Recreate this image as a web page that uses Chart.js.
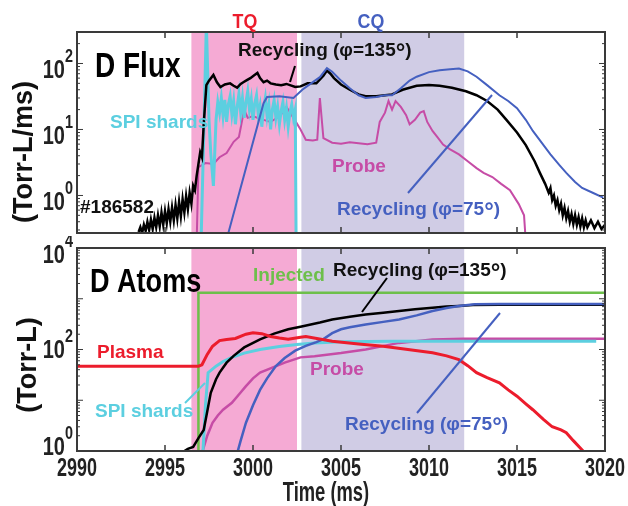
<!DOCTYPE html>
<html lang="en">
<head>
    <meta charset="UTF-8">
    <title>D Flux / D Atoms</title>
    <script src="https://cdn.jsdelivr.net/npm/chart.js"></script>
    <style>
        body { margin: 0; background: #fff; }
        canvas { position: absolute; left: 0; }
        #fluxChart { top: 0; }
        #atomChart { top: 236px; }
    </style>
</head>
<body>
    <canvas id="fluxChart" width="628" height="236"></canvas>
    <canvas id="atomChart" width="628" height="270"></canvas>
    <script>
    // time axis (ms)
    const tMin = 2990, tMax = 3020;
    const timeTicks = [2990, 2995, 3000, 3005, 3010, 3015, 3020];

    // thermal quench / current quench windows (ms)
    const tqPhase = [2996.5, 3002.5];
    const cqPhase = [3002.75, 3012];

    // log axis limits and labelled decades
    const fluxRange = [0.27, 300];
    const fluxDecades = [0, 1, 2];
    const atomRange = [1, 10000];
    const atomDecades = [0, 2, 4];

    // D flux (Torr-L/ms) as [time, value]
    const fluxRecycling135 = [
        [2993.5, 0.28], [2993.6, 0.33], [2993.7, 0.27], [2993.8, 0.36], [2993.9, 0.29], [2994.0, 0.40],
        [2994.1, 0.30], [2994.2, 0.43], [2994.3, 0.31], [2994.4, 0.46], [2994.5, 0.33], [2994.6, 0.50],
        [2994.7, 0.34], [2994.8, 0.55], [2994.9, 0.36], [2995.0, 0.58], [2995.1, 0.38], [2995.2, 0.62],
        [2995.3, 0.40], [2995.4, 0.66], [2995.5, 0.42], [2995.6, 0.72], [2995.7, 0.45], [2995.8, 0.80],
        [2995.9, 0.48], [2996.0, 0.88], [2996.1, 0.55], [2996.2, 0.98], [2996.3, 0.62], [2996.4, 1.1],
        [2996.5, 0.75], [2996.6, 1.4], [2996.7, 1.2], [2996.8, 2.0], [2996.9, 3.0], [2997.0, 4.5],
        [2997.1, 3.8], [2997.2, 12], [2997.35, 47], [2997.5, 55], [2997.75, 67], [2997.95, 52],
        [2998.15, 44], [2998.4, 48], [2998.7, 50], [2998.9, 46], [2999.1, 43], [2999.3, 49],
        [2999.45, 52], [2999.65, 56], [2999.85, 60], [3000.05, 66], [3000.25, 72], [3000.4, 60],
        [3000.6, 52], [3000.8, 55], [3001.0, 50], [3001.3, 48], [3001.6, 47], [3001.9, 49],
        [3002.1, 47], [3002.4, 44], [3002.7, 45], [3003.1, 50], [3003.6, 50], [3004.0, 65],
        [3004.2, 78], [3004.4, 70], [3004.6, 60], [3005.0, 48], [3005.5, 40], [3006.0, 34],
        [3006.4, 32], [3007.0, 32], [3007.5, 33], [3007.9, 34], [3008.5, 40], [3009.3, 46],
        [3010.0, 47], [3010.6, 46], [3011.3, 43], [3012.1, 38], [3012.7, 33], [3013.3, 27],
        [3013.9, 20], [3014.4, 14], [3015.0, 9], [3015.5, 5.8], [3016.0, 3.3], [3016.3, 2.2],
        [3016.6, 1.5], [3016.8, 1.1], [3016.9, 1.3], [3017.0, 0.85], [3017.1, 1.0], [3017.2, 0.7],
        [3017.3, 0.85], [3017.4, 0.6], [3017.5, 0.75], [3017.6, 0.5], [3017.7, 0.65], [3017.8, 0.45],
        [3017.9, 0.58], [3018.0, 0.4], [3018.1, 0.52], [3018.2, 0.37], [3018.3, 0.5], [3018.4, 0.36],
        [3018.5, 0.47], [3018.6, 0.34], [3018.7, 0.45], [3018.8, 0.33], [3018.9, 0.42], [3019.0, 0.33],
        [3019.2, 0.42], [3019.4, 0.32], [3019.6, 0.4], [3019.8, 0.31], [3020.0, 0.36]
    ];
    const fluxRecycling75 = [
        [2998.6, 0.27], [3000.6, 25], [3000.8, 31], [3001.5, 32], [3002.3, 30], [3002.8, 40],
        [3003.3, 50], [3003.8, 62], [3004.2, 85], [3004.5, 75], [3005.0, 55], [3005.5, 42],
        [3006.0, 33], [3006.4, 30], [3007.0, 31], [3007.5, 33], [3007.9, 33], [3008.4, 42],
        [3008.9, 55], [3009.3, 63], [3010.0, 74], [3010.6, 79], [3011.2, 82], [3011.7, 84],
        [3012.2, 76], [3012.7, 63], [3013.3, 47], [3014.0, 33], [3014.5, 27], [3015.0, 21],
        [3015.5, 14], [3015.9, 9.5], [3016.4, 6.3], [3016.9, 4.2], [3017.4, 2.9], [3017.8, 2.2],
        [3018.3, 1.6], [3018.7, 1.3], [3019.3, 1.1], [3019.9, 0.93]
    ];
    const fluxProbe = [
        [2996.8, 0.2], [2996.9, 2.7], [2997.3, 3.1], [2997.75, 3.0], [2998.1, 3.8], [2998.5, 4.4],
        [2998.9, 6.5], [2999.2, 7.7], [2999.5, 20], [2999.7, 15], [3000.0, 16], [3000.25, 15],
        [3000.6, 14], [3001.0, 13], [3001.4, 15.3], [3001.7, 18], [3001.9, 22], [3002.3, 15],
        [3002.7, 10], [3003.0, 7], [3003.4, 6.8], [3003.65, 7], [3003.8, 30], [3004.0, 7.4],
        [3004.5, 6.3], [3005.0, 6.1], [3005.5, 6.4], [3006.0, 6.2], [3006.5, 6.0], [3007.0, 6.3],
        [3007.2, 13], [3007.5, 18], [3007.7, 27], [3007.9, 20], [3008.1, 27], [3008.4, 22],
        [3008.7, 16.5], [3008.9, 12], [3009.2, 14], [3009.5, 18], [3009.7, 19], [3009.9, 13],
        [3010.2, 9.5], [3010.5, 7.5], [3010.8, 5.9], [3011.2, 5.0], [3011.7, 4.2], [3012.2, 3.3],
        [3012.7, 2.6], [3013.1, 2.2], [3013.6, 1.9], [3014.1, 1.5], [3014.6, 1.2], [3015.1, 0.74],
        [3015.4, 0.5], [3015.5, 0.2]
    ];
    const fluxShards = [
        [2997.05, 0.2], [2997.2, 8], [2997.35, 400], [2997.5, 14], [2997.6, 4.4], [2997.75, 1.4],
        [2997.9, 14], [2998.0, 26], [2998.1, 18], [2998.2, 30], [2998.3, 16], [2998.4, 28],
        [2998.5, 13], [2998.6, 24], [2998.7, 32], [2998.8, 17], [2998.9, 27], [2999.0, 12],
        [2999.1, 22], [2999.2, 35], [2999.3, 18], [2999.4, 30], [2999.5, 15], [2999.6, 26],
        [2999.7, 38], [2999.8, 20], [2999.9, 29], [3000.0, 14], [3000.1, 25], [3000.2, 33],
        [3000.3, 17], [3000.4, 23], [3000.5, 11], [3000.6, 21], [3000.7, 30], [3000.8, 16],
        [3000.9, 24], [3001.0, 10], [3001.1, 20], [3001.2, 28], [3001.3, 15], [3001.4, 22],
        [3001.5, 12], [3001.6, 19], [3001.7, 26], [3001.8, 14], [3001.9, 21], [3002.0, 11],
        [3002.1, 18], [3002.2, 24], [3002.3, 15], [3002.4, 20], [3002.45, 0.2]
    ];

    // D atoms (Torr-L) as [time, value]
    const atomsPlasma = [
        [2990, 47], [2996.9, 47], [2997.1, 50], [2997.4, 80], [2997.7, 116], [2998.1, 150],
        [2998.5, 158], [2999.0, 165], [2999.6, 200], [3000.0, 214], [3000.5, 205], [3001.0, 180],
        [3001.5, 168], [3002.0, 160], [3002.7, 175], [3003.0, 180], [3004.5, 145], [3006.0, 128],
        [3007.4, 116], [3008.8, 100], [3010.2, 86], [3011.0, 75], [3011.7, 63], [3012.2, 48],
        [3012.7, 35], [3013.3, 28], [3014.0, 22], [3014.5, 16], [3015.0, 12], [3015.5, 8.5],
        [3015.9, 6.5], [3016.5, 4.2], [3017.0, 3.0], [3017.5, 2.6], [3017.8, 2.3], [3018.2, 1.6],
        [3018.7, 1.05], [3019.0, 0.8]
    ];
    const atomsInjected = [[2996.9, 0.5], [2996.9, 1320], [3020, 1320]];
    const atomsRecycling135 = [
        [2995.9, 0.9], [2996.3, 1.1], [2996.6, 1.2], [2996.9, 1.8], [2997.2, 2.6], [2997.4, 6],
        [2997.6, 14], [2997.9, 26], [2998.1, 35], [2998.5, 55], [2998.9, 75], [2999.5, 110],
        [3000.4, 158], [3001.2, 205], [3002.0, 250], [3002.7, 280], [3003.8, 340], [3004.5, 390],
        [3005.5, 440], [3006.4, 490], [3007.4, 530], [3008.3, 575], [3009.2, 620], [3010.2, 665],
        [3011.0, 700], [3011.7, 720], [3012.5, 750], [3014, 765], [3020, 765]
    ];
    const atomsRecycling75 = [
        [2999.1, 0.9], [2999.3, 1.6], [2999.6, 3.6], [3000.0, 8], [3000.4, 16], [3000.8, 27],
        [3001.3, 47], [3001.8, 68], [3002.4, 95], [3003.0, 118], [3003.6, 140], [3004.0, 160],
        [3004.5, 210], [3005.0, 250], [3005.5, 275], [3006.4, 310], [3007.4, 350], [3008.3, 390],
        [3009.3, 470], [3010.2, 575], [3011.0, 660], [3011.7, 720], [3012.6, 780], [3014, 790],
        [3020, 790]
    ];
    const atomsProbe = [
        [2997.1, 0.9], [2997.4, 2], [2997.7, 3.6], [2998.0, 5], [2998.3, 6.5], [2998.8, 8.9],
        [2999.2, 13], [2999.6, 19], [3000.0, 27], [3000.4, 35], [3001.1, 44], [3001.8, 55],
        [3002.7, 70], [3003.5, 74], [3005, 85], [3006.4, 100], [3008.3, 135], [3010.2, 158],
        [3012, 163], [3020, 163]
    ];
    const atomsShards = [
        [2997.15, 0.9], [2997.3, 8], [2997.45, 35], [2997.9, 47], [2998.3, 58], [2998.8, 70],
        [2999.5, 85], [3000.4, 100], [3001.5, 115], [3002.5, 125], [3003.5, 135], [3005, 142],
        [3008, 145], [3019.5, 145]
    ];

    const C = {
        black: '#000000', blue: '#4560c0', probe: '#c64ca6', shards: '#5ccfe0',
        red: '#ec1c2c', green: '#6dbf4b', tq: '#f5aad4', cq: '#d0cce5', frame: '#3a3a3a'
    };
    const SANS = '"Liberation Sans", Arial, sans-serif';
    const B = size => 'bold ' + size + 'px ' + SANS;
    const F = B(19);
    const DEG = B(24);
    const ATOM_TOP = 236;   // page offset of the lower canvas

    const pts = arr => arr.map(p => ({ x: p[0], y: p[1] }));
    const line = (data, color, width) => ({
        data: pts(data), borderColor: color, borderWidth: width,
        pointRadius: 0, tension: 0, fill: false
    });

    // draw text made of several font runs, vertically centred; sx squeezes it horizontally
    function runs(ctx, x, y, parts, color, sx = 1, align = 'left') {
        ctx.save();
        ctx.fillStyle = color;
        ctx.textAlign = 'left';
        ctx.textBaseline = 'middle';
        let w = 0;
        parts.forEach(([s, font]) => { ctx.font = font; w += ctx.measureText(s).width * sx; });
        if (align === 'center') x -= w / 2;
        if (align === 'right') x -= w;
        parts.forEach(([s, font, dy]) => {
            ctx.font = font;
            ctx.save();
            ctx.translate(x, y + (dy || 0));
            ctx.scale(sx, 1);
            ctx.fillText(s, 0, 0);
            ctx.restore();
            x += ctx.measureText(s).width * sx;
        });
        ctx.restore();
    }
    const phiLabel = (deg) => [['Recycling (φ=' + deg, F], ['°', DEG, 2], [')', F]];

    function pointer(ctx, color, x1, y1, x2, y2) {
        ctx.strokeStyle = color;
        ctx.lineWidth = 2;
        ctx.beginPath();
        ctx.moveTo(x1, y1);
        ctx.lineTo(x2, y2);
        ctx.stroke();
    }

    // shaded TQ / CQ windows, frame, inward ticks and log tick labels
    function panelPlugin(decades, labelDy, annotate) {
        return {
            id: 'panel',
            beforeDatasetsDraw(chart) {
                const { ctx, chartArea: a, scales: { x } } = chart;
                ctx.save();
                ctx.fillStyle = C.tq;
                ctx.fillRect(x.getPixelForValue(tqPhase[0]), a.top, x.getPixelForValue(tqPhase[1]) - x.getPixelForValue(tqPhase[0]), a.bottom - a.top);
                ctx.fillStyle = C.cq;
                ctx.fillRect(x.getPixelForValue(cqPhase[0]), a.top, x.getPixelForValue(cqPhase[1]) - x.getPixelForValue(cqPhase[0]), a.bottom - a.top);
                ctx.restore();
            },
            afterDraw(chart) {
                const { ctx, chartArea: a, scales: { x, y } } = chart;
                ctx.save();
                ctx.strokeStyle = C.frame;
                ctx.lineWidth = 1.5;
                // time ticks on top and bottom edges
                timeTicks.slice(1, -1).forEach(t => {
                    const px = x.getPixelForValue(t);
                    ctx.beginPath();
                    ctx.moveTo(px, a.bottom); ctx.lineTo(px, a.bottom - 6);
                    ctx.moveTo(px, a.top); ctx.lineTo(px, a.top + 6);
                    ctx.stroke();
                });
                // log ticks on left and right edges
                ctx.lineWidth = 1;
                const lo = Math.floor(Math.log10(y.min)), hi = Math.ceil(Math.log10(y.max));
                for (let k = lo; k <= hi; k++) {
                    for (let m = 1; m <= 9; m++) {
                        const v = m * Math.pow(10, k);
                        if (v < y.min || v > y.max) continue;
                        const py = y.getPixelForValue(v);
                        const len = m === 1 ? 6 : 3;
                        ctx.beginPath();
                        ctx.moveTo(a.left, py); ctx.lineTo(a.left + len, py);
                        ctx.moveTo(a.right, py); ctx.lineTo(a.right - len, py);
                        ctx.stroke();
                    }
                }
                ctx.lineWidth = 2;
                ctx.strokeRect(a.left, a.top, a.right - a.left, a.bottom - a.top);

                // decade labels: 10 with raised exponent
                decades.forEach((k, i) => {
                    const py = y.getPixelForValue(Math.pow(10, k)) + labelDy[i];
                    runs(ctx, a.left - 4, py, [['10', B(25)], [String(k), B(18), -14]], '#222', 0.8, 'right');
                });
                annotate(ctx, a, x);
                ctx.restore();
            }
        };
    }

    function yTitle(ctx, text, cx, cy) {
        ctx.save();
        ctx.translate(cx, cy);
        ctx.rotate(-Math.PI / 2);
        ctx.font = B(27);
        ctx.fillStyle = '#111';
        ctx.textAlign = 'center';
        ctx.textBaseline = 'middle';
        ctx.fillText(text, 0, 0);
        ctx.restore();
    }

    const timeScale = { type: 'linear', min: tMin, max: tMax, display: false };
    const common = {
        responsive: false,
        animation: false,
        plugins: { legend: { display: false }, tooltip: { enabled: false } }
    };

    // upper panel: deuterium flux
    new Chart(document.getElementById('fluxChart'), {
        type: 'line',
        data: {
            datasets: [
                line(fluxRecycling75, C.blue, 2),
                line(fluxRecycling135, C.black, 2.5),
                line(fluxShards, C.shards, 3),
                line(fluxProbe, C.probe, 2)
            ]
        },
        options: {
            ...common,
            layout: { padding: { left: 77, right: 23, top: 32, bottom: 3 } },
            scales: {
                x: timeScale,
                y: { type: 'logarithmic', min: fluxRange[0], max: fluxRange[1], display: false }
            }
        },
        plugins: [panelPlugin(fluxDecades, [8, 8, 8], (ctx, a) => {
            runs(ctx, 245, 22, [['TQ', B(21)]], C.red, 0.85, 'center');
            runs(ctx, 371, 22, [['CQ', B(21)]], C.blue, 0.85, 'center');
            runs(ctx, 95, 67, [['D Flux', B(35)]], '#000', 0.8);
            runs(ctx, 238, 51, phiLabel('135'), '#111');
            pointer(ctx, '#000', 295, 66, 290, 82);
            runs(ctx, 110, 123, [['SPI shards', F]], C.shards);
            runs(ctx, 80, 208, [['#186582', F]], '#111');
            runs(ctx, 332, 167, [['Probe', F]], C.probe);
            runs(ctx, 337, 210, phiLabel('75'), C.blue);
            pointer(ctx, C.blue, 408, 193, 492, 95);
            yTitle(ctx, '(Torr-L/ms)', 25, 152);
        })]
    });

    // lower panel: deuterium atom inventory
    new Chart(document.getElementById('atomChart'), {
        type: 'line',
        data: {
            datasets: [
                line(atomsPlasma, C.red, 3),
                line(atomsRecycling75, C.blue, 2.5),
                line(atomsRecycling135, C.black, 2.5),
                line(atomsShards, C.shards, 3),
                line(atomsProbe, C.probe, 2.5),
                line(atomsInjected, C.green, 2.5)
            ]
        },
        options: {
            ...common,
            layout: { padding: { left: 77, right: 23, top: 12, bottom: 55 } },
            scales: {
                x: timeScale,
                y: { type: 'logarithmic', min: atomRange[0], max: atomRange[1], display: false }
            }
        },
        plugins: [panelPlugin(atomDecades, [-3, 2, 8], (ctx, a, x) => {
            // time tick labels and axis title
            timeTicks.forEach(t => runs(ctx, x.getPixelForValue(t), a.bottom + 18, [[String(t), B(25)]], '#222', 0.72, 'center'));
            // remaining labels are placed in page coordinates
            ctx.translate(0, -ATOM_TOP);
            runs(ctx, 326, 494, [['Time (ms)', B(27)]], '#222', 0.68, 'center');
            runs(ctx, 90, 283, [['D Atoms', B(33)]], '#000', 0.82);
            runs(ctx, 253, 276, [['Injected', F]], C.green);
            runs(ctx, 333, 271, phiLabel('135'), '#111');
            pointer(ctx, '#000', 362, 312, 387, 278);
            runs(ctx, 97, 353, [['Plasma', F]], C.red);
            runs(ctx, 95, 412, [['SPI shards', F]], C.shards);
            pointer(ctx, C.shards, 185, 403, 205, 383);
            runs(ctx, 310, 370, [['Probe', F]], C.probe);
            runs(ctx, 345, 425, phiLabel('75'), C.blue);
            pointer(ctx, C.blue, 417, 413, 500, 313);
            yTitle(ctx, '(Torr-L)', 29, 365);
        })]
    });
    </script>
</body>
</html>
